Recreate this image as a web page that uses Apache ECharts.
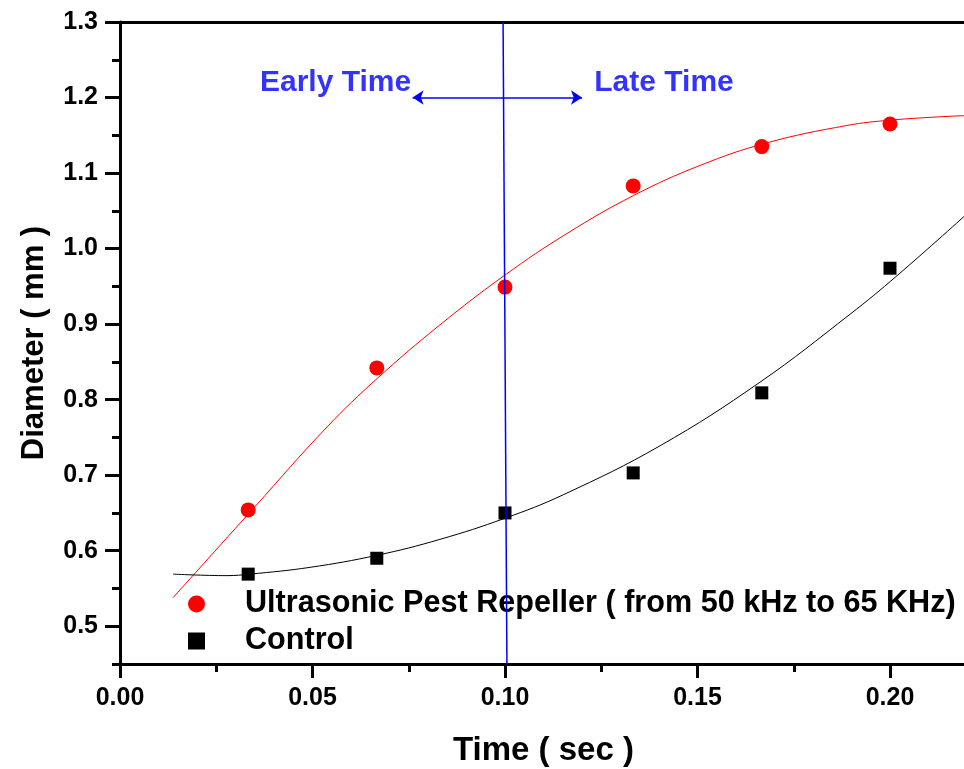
<!DOCTYPE html>
<html>
<head>
<meta charset="utf-8">
<script src="https://cdn.jsdelivr.net/npm/echarts@6/dist/echarts.min.js"></script>
<style>
  html, body { margin: 0; padding: 0; background: #fff; }
  #chart { width: 964px; height: 769px; }
</style>
</head>
<body>
<div id="chart"></div>
<script>
    // measured points
    let times = [0.0333, 0.0667, 0.1, 0.1333, 0.1667, 0.2];
    let repeller = [0.654, 0.842, 0.949, 1.083, 1.135, 1.165];
    let control = [0.569, 0.590, 0.650, 0.703, 0.809, 0.974];

    // fitted curves
    let redFitX = [0.0138, 0.035, 0.0538, 0.0668, 0.0831, 0.1, 0.1161, 0.1333, 0.1506, 0.168, 0.1888, 0.2, 0.2148, 0.22];
    let redFitY = [0.538, 0.658, 0.764, 0.828, 0.899, 0.965, 1.020, 1.070, 1.110, 1.140, 1.163, 1.170, 1.175, 1.176];
    let blackFitX = [0.0138, 0.0278, 0.0338, 0.0494, 0.0668, 0.0831, 0.1, 0.1151, 0.1403, 0.1662, 0.1896, 0.2018, 0.22];
    let blackFitY = [0.569, 0.567, 0.569, 0.578, 0.594, 0.615, 0.643, 0.674, 0.739, 0.823, 0.913, 0.964, 1.046];

    // divider + labels
    let dividerX = [0.0995, 0.1005];
    let dividerY = [1.3, 0.45];
    let labelTexts = ['Early Time', 'Late Time'];
    let labelX = [0.0560, 0.1413];
    let labelY = [1.219, 1.219];

    // ticks
    let xMajor = [0, 0.05, 0.10, 0.15, 0.20];
    let xMinor = [0.025, 0.075, 0.125, 0.175];
    let yMajor = [0.5, 0.6, 0.7, 0.8, 0.9, 1.0, 1.1, 1.2, 1.3];
    let yMinor = [0.45, 0.55, 0.65, 0.75, 0.85, 0.95, 1.05, 1.15, 1.25];

    let seriesNames = ['Ultrasonic Pest Repeller ( from 50 kHz to 65 KHz)', 'Control'];

    let font = 'Liberation Sans, Arial, Helvetica, sans-serif';
    let zip = (xs, ys) => xs.map((x, i) => [x, ys[i]]);

    let chart = echarts.init(document.getElementById('chart'));

    let axisLine = { show: true, lineStyle: { color: '#000', width: 3 } };

    let option = {
        animation: false,
        backgroundColor: '#fff',
        textStyle: { fontFamily: font },
        grid: { left: 120, top: 22, right: -3, bottom: 105, outerBoundsMode: 'none', containLabel: false },
        legend: {
            orient: 'vertical',
            left: 188,
            top: 588,
            padding: 0,
            itemWidth: 17,
            itemHeight: 17,
            itemGap: 5,
            data: seriesNames,
            textStyle: {
                fontFamily: font, fontSize: 30.6, fontWeight: 'bold', color: '#000',
                lineHeight: 32, padding: [0, 0, 0, 35]
            }
        },
        xAxis: [
            {
                type: 'value', min: 0, max: 0.22, position: 'bottom',
                name: 'Time ( sec )', nameLocation: 'middle', nameGap: 70,
                nameTextStyle: { fontFamily: font, fontSize: 33, fontWeight: 'bold', color: '#000' },
                axisLine: axisLine,
                axisTick: { show: true, length: 14, lineStyle: { color: '#000', width: 3 }, customValues: xMajor },
                axisLabel: {
                    customValues: xMajor, margin: 22,
                    fontFamily: font, fontSize: 25, fontWeight: 'bold', color: '#000',
                    formatter: v => v.toFixed(2)
                },
                splitLine: { show: false }
            },
            {
                type: 'value', min: 0, max: 0.22, position: 'bottom',
                axisLine: { show: false },
                axisTick: { show: true, length: 8, lineStyle: { color: '#000', width: 3 }, customValues: xMinor },
                axisLabel: { show: false },
                splitLine: { show: false }
            },
            {
                type: 'value', min: 0, max: 0.22, position: 'top',
                axisLine: axisLine,
                axisTick: { show: false },
                axisLabel: { show: false },
                splitLine: { show: false }
            }
        ],
        yAxis: [
            {
                type: 'value', min: 0.45, max: 1.3, position: 'left',
                name: 'Diameter ( mm )', nameLocation: 'middle', nameGap: 70,
                nameTextStyle: { fontFamily: font, fontSize: 31, fontWeight: 'bold', color: '#000' },
                axisLine: axisLine,
                axisTick: { show: true, length: 15, lineStyle: { color: '#000', width: 3 }, customValues: yMajor },
                axisLabel: {
                    customValues: yMajor, margin: 22,
                    fontFamily: font, fontSize: 25, fontWeight: 'bold', color: '#000',
                    formatter: v => v.toFixed(1)
                },
                splitLine: { show: false }
            },
            {
                type: 'value', min: 0.45, max: 1.3, position: 'left',
                axisLine: { show: false },
                axisTick: { show: true, length: 8, lineStyle: { color: '#000', width: 3 }, customValues: yMinor },
                axisLabel: { show: false },
                splitLine: { show: false }
            }
        ],
        series: [
            {
                type: 'line', silent: true, smooth: 0.4, showSymbol: false,
                data: zip(redFitX, redFitY),
                lineStyle: { color: '#ff0000', width: 1 },
                z: 2
            },
            {
                type: 'line', silent: true, smooth: 0.4, showSymbol: false,
                data: zip(blackFitX, blackFitY),
                lineStyle: { color: '#000', width: 1 },
                z: 2
            },
            {
                name: seriesNames[0], type: 'scatter', symbol: 'circle', symbolSize: 15,
                data: zip(times, repeller),
                itemStyle: { color: '#ff0000', opacity: 1 },
                z: 3
            },
            {
                name: seriesNames[1], type: 'scatter', symbol: 'rect', symbolSize: 13,
                data: zip(times, control),
                itemStyle: { color: '#000', opacity: 1 },
                z: 3
            },
            {
                type: 'scatter', silent: true, symbolSize: 0,
                data: labelTexts.map((t, i) => [labelX[i], labelY[i], t]),
                label: {
                    show: true, position: 'inside',
                    formatter: p => p.value[2],
                    fontFamily: font, fontSize: 30, fontWeight: 'bold', color: '#0000ff'
                },
                z: 6
            },
            {
                type: 'line', silent: true, showSymbol: false,
                data: zip(dividerX, dividerY),
                lineStyle: { color: '#0000ff', width: 1.5 },
                markLine: {
                    silent: true,
                    symbol: ['none', 'arrow'],
                    symbolSize: 11,
                    label: { show: false },
                    lineStyle: { color: '#0000ff', width: 1.5, type: 'solid' },
                    emphasis: { disabled: true },
                    data: [
                        [{ coord: [0.1, 1.2] }, { coord: [0.076, 1.2] }],
                        [{ coord: [0.1, 1.2] }, { coord: [0.12, 1.2] }]
                    ]
                },
                z: 10
            }
        ]
    };

    chart.setOption(option);
</script>
</body>
</html>
